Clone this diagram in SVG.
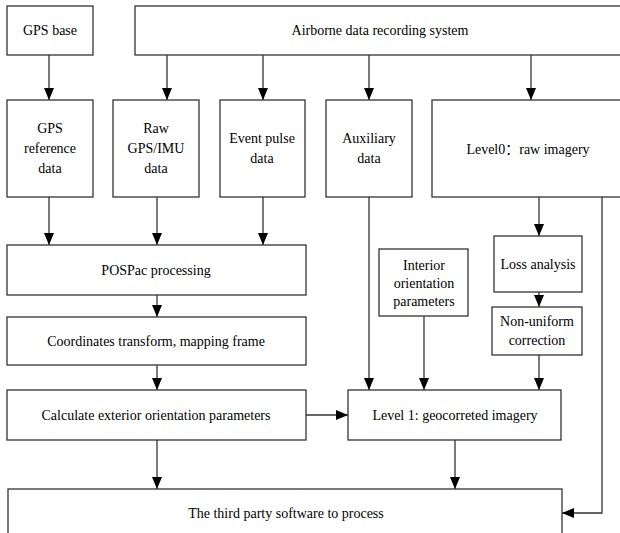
<svg xmlns="http://www.w3.org/2000/svg" width="620" height="533" viewBox="0 0 620 533">
<defs>
<marker id="ah" markerUnits="userSpaceOnUse" markerWidth="12" markerHeight="10" refX="12" refY="5" orient="auto">
<path d="M0,0 L12,5 L0,10 z" fill="#000"/>
</marker>
<style>
rect{fill:#fff;stroke:#333;stroke-width:1.3}
text{font-family:"Liberation Serif","Noto Sans CJK SC",serif;font-size:14px;fill:#000;text-anchor:middle}
.c{fill:none;stroke:#333;stroke-width:1.3}
.a{marker-end:url(#ah)}
</style>
</defs>
<rect width="620" height="533" style="fill:#fff;stroke:none"/>
<g id="connectors">
<path class="c a" d="M49,55 V100"/>
<path class="c a" d="M167,55 V100"/>
<path class="c a" d="M263,55 V100"/>
<path class="c a" d="M369,55 V100"/>
<path class="c a" d="M531,55 V100"/>
<path class="c a" d="M49,197 V245"/>
<path class="c a" d="M157,197 V245"/>
<path class="c a" d="M263,197 V245"/>
<path class="c a" d="M157,295 V317"/>
<path class="c a" d="M157,365 V390"/>
<path class="c a" d="M306,415 H348"/>
<path class="c a" d="M369,197 V390"/>
<path class="c a" d="M424,316 V390"/>
<path class="c a" d="M539,197 V236"/>
<path class="c a" d="M539,292 V307"/>
<path class="c a" d="M539,355 V390"/>
<path class="c a" d="M157,440 V489"/>
<path class="c a" d="M455,440 V489"/>
<path class="c a" d="M602,197 V513 H562"/>
</g>
<g id="gps-base"><rect x="7" y="6" width="86" height="49"/><text x="50" y="35">GPS base</text></g>
<g id="airborne"><rect x="135" y="6" width="490" height="49"/><text x="380" y="35">Airborne data recording system</text></g>
<g id="gps-ref"><rect x="7" y="100" width="86" height="97"/><text x="50" y="133">GPS</text><text x="50" y="153">reference</text><text x="50" y="173">data</text></g>
<g id="raw-gps"><rect x="113" y="100" width="86" height="97"/><text x="156" y="133">Raw</text><text x="156" y="153">GPS/IMU</text><text x="156" y="173">data</text></g>
<g id="event"><rect x="220" y="100" width="85" height="97"/><text x="262" y="143">Event pulse</text><text x="262" y="163">data</text></g>
<g id="aux"><rect x="326" y="100" width="86" height="97"/><text x="369" y="143">Auxiliary</text><text x="369" y="163">data</text></g>
<g id="level0"><rect x="432" y="100" width="195" height="97"/><text x="528" y="154">Level0：raw imagery</text></g>
<g id="pospac"><rect x="7" y="245" width="299" height="50"/><text x="156" y="275">POSPac processing</text></g>
<g id="coords"><rect x="7" y="317" width="299" height="48"/><text x="156" y="346">Coordinates transform, mapping frame</text></g>
<g id="calc"><rect x="7" y="390" width="299" height="50"/><text x="156" y="420">Calculate exterior orientation parameters</text></g>
<g id="level1"><rect x="348" y="390" width="213" height="50"/><text x="455" y="420">Level 1: geocorreted imagery</text></g>
<g id="interior"><rect x="379" y="249" width="89" height="67"/><text x="424" y="270">Interior</text><text x="424" y="288">orientation</text><text x="424" y="306">parameters</text></g>
<g id="loss"><rect x="494" y="236" width="88" height="56"/><text x="538" y="269">Loss analysis</text></g>
<g id="nonuniform"><rect x="492" y="307" width="90" height="48"/><text x="537" y="326">Non-uniform</text><text x="537" y="345">correction</text></g>
<g id="third"><rect x="8" y="489" width="554" height="60"/><text x="286" y="518">The third party software to process</text></g>
</svg>
